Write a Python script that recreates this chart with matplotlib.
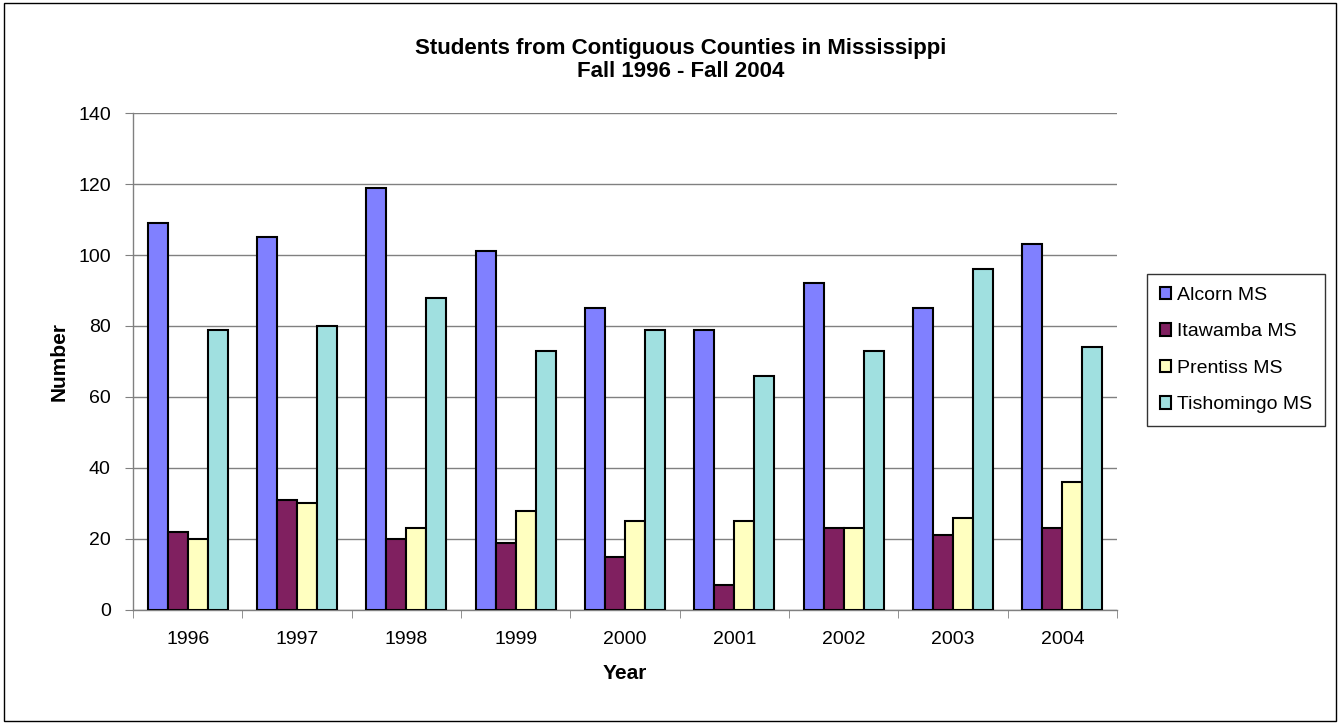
import numpy as np
import matplotlib
matplotlib.use("Agg")
import matplotlib.pyplot as plt
from matplotlib.patches import Rectangle

plt.rcParams['font.family'] = ['Liberation Sans', 'DejaVu Sans']

years = ["1996", "1997", "1998", "1999", "2000", "2001", "2002", "2003", "2004"]
alcorn = [109, 105, 119, 101, 85, 79, 92, 85, 103]
itawamba = [22, 31, 20, 19, 15, 7, 23, 21, 23]
prentiss = [20, 30, 23, 28, 25, 25, 23, 26, 36]
tishomingo = [79, 80, 88, 73, 79, 66, 73, 96, 74]

series = [("Alcorn MS", alcorn, "#8080FF"),
          ("Itawamba MS", itawamba, "#802060"),
          ("Prentiss MS", prentiss, "#FFFFC0"),
          ("Tishomingo MS", tishomingo, "#A0E0E0")]

fig = plt.figure(figsize=(13.4, 7.24), dpi=100)
ax = fig.add_axes([0.0993, 0.1575, 0.7343, 0.6864])

x = np.arange(len(years))
w = 0.183
for i, (name, vals, col) in enumerate(series):
    ax.bar(x + (i - 1.5) * w, vals, w, color=col, edgecolor="black", linewidth=1.5,
           label=name, zorder=3)

ax.set_xlim(-0.5, len(years) - 0.5)
ax.set_ylim(0, 140)
ax.set_yticks(np.arange(0, 141, 20))
ax.yaxis.grid(True, color="#808080", linewidth=1, zorder=0)
ax.set_xticks(x)
ax.set_xticklabels(years)
ax.set_xticks(np.arange(-0.5, len(years)), minor=True)
ax.tick_params(axis="x", which="major", length=0, pad=15, labelsize=14)
ax.tick_params(axis="x", which="minor", length=6, color="#808080", direction="out")
ax.tick_params(axis="y", length=6, color="#808080", labelsize=14, pad=10)
for s in ("top", "right"):
    ax.spines[s].set_visible(False)
for s in ("left", "bottom"):
    ax.spines[s].set_color("#808080")
    ax.spines[s].set_linewidth(1)

ax.set_xlabel("Year", fontsize=15, fontweight="bold", labelpad=12)
ax.set_ylabel("Number", fontsize=15, fontweight="bold", labelpad=7)
fig.text(0.508, 0.917, "Students from Contiguous Counties in Mississippi\nFall 1996 - Fall 2004",
         ha="center", va="center", fontsize=16, fontweight="bold", linespacing=1.15)

leg = ax.legend(loc="center left", bbox_to_anchor=(1.0305, 0.523), fontsize=14, frameon=True,
                fancybox=False, edgecolor="black", handlelength=0.6, handleheight=0.6,
                labelspacing=1.0, borderpad=0.65, handletextpad=0.3, borderaxespad=0)
leg.get_frame().set_linewidth(1)

fig.patches.append(Rectangle((0.003, 0.004), 0.994, 0.992, transform=fig.transFigure,
                             fill=False, edgecolor="black", linewidth=1))

fig.savefig("out.png", dpi=100)
